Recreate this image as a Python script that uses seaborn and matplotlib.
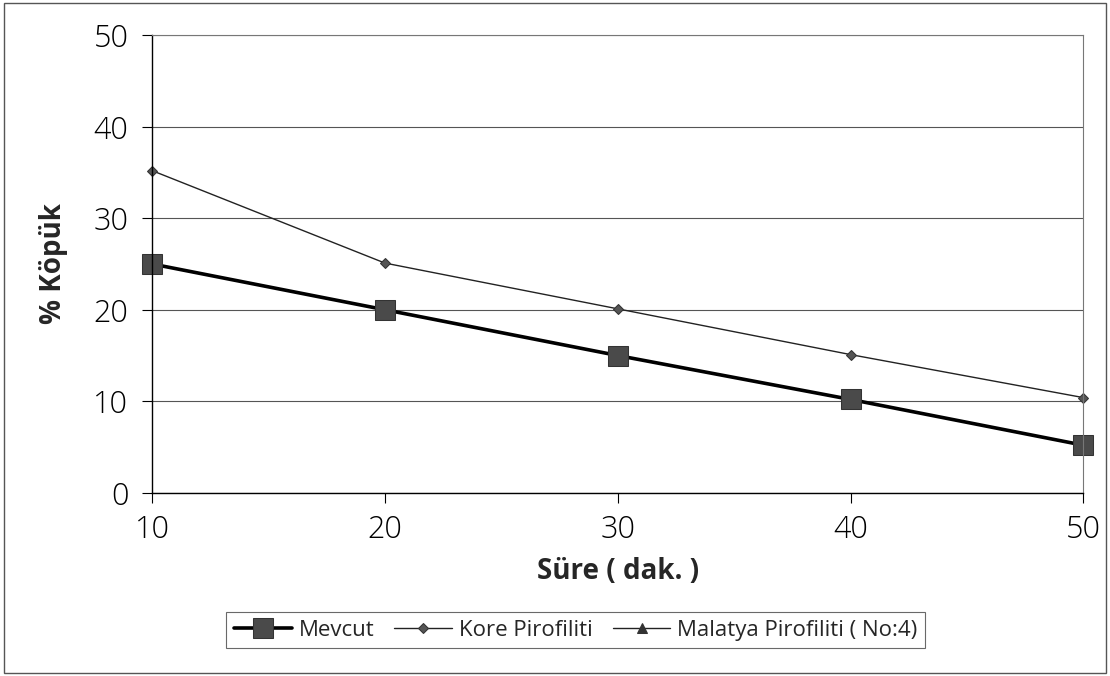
import numpy as np
import pandas as pd
import seaborn as sns
import matplotlib.pyplot as plt
from matplotlib.patches import Rectangle

# Veriler
sure = [10, 20, 30, 40, 50]
mevcut = [25, 20, 15, 10.2, 5.2]
kore = [35.2, 25.1, 20.1, 15.1, 10.4]
malatya = [np.nan, np.nan, np.nan, np.nan, np.nan]  # grafikte gorunmuyor

sns.set_theme(style="white")
plt.rcParams['font.family'] = ['Open Sans', 'DejaVu Sans']

fig = plt.figure(figsize=(11.1, 6.76), dpi=100)
ax = fig.add_axes([0.137, 0.271, 0.839, 0.677])

sns.lineplot(x=sure, y=mevcut, ax=ax, color='black', linewidth=2.6,
             marker='s', markersize=14, markerfacecolor='#4a4a4a',
             markeredgecolor='#333333', label='Mevcut', clip_on=False)
sns.lineplot(x=sure, y=kore, ax=ax, color='#222222', linewidth=1.0,
             marker='D', markersize=5, markerfacecolor='#555555',
             markeredgecolor='#333333', label='Kore Pirofiliti', clip_on=False)
sns.lineplot(x=sure, y=malatya, ax=ax, color='#222222', linewidth=1.0,
             marker='^', markersize=7, markerfacecolor='#333333',
             markeredgecolor='#333333', label='Malatya Pirofiliti ( No:4)')

ax.set_xlim(10, 50)
ax.set_ylim(0, 50)
ax.set_xticks(sure)
ax.set_yticks([0, 10, 20, 30, 40, 50])
ax.yaxis.grid(True, color='#555555', linewidth=0.8)
ax.set_axisbelow(True)
ax.tick_params(axis='both', labelsize=22, length=7, width=0.8,
               direction='out', colors='black', left=True, bottom=True)
ax.tick_params(axis='x', pad=8)
ax.tick_params(axis='y', pad=10)
for lbl in ax.get_xticklabels() + ax.get_yticklabels():
    lbl.set_fontweight('light')

for s in ['left', 'bottom']:
    ax.spines[s].set_color('black')
    ax.spines[s].set_linewidth(1.0)
for s in ['top', 'right']:
    ax.spines[s].set_color('#777777')
    ax.spines[s].set_linewidth(0.8)

ax.set_xlabel('Süre ( dak. )', fontsize=20, fontweight='bold', labelpad=8)
ax.set_ylabel('% Köpük', fontsize=20, fontweight='bold', labelpad=18)

leg = ax.legend(loc='center', bbox_to_anchor=(0.455, -0.30), ncol=3,
                frameon=True, fancybox=False, fontsize=16,
                handlelength=2.6, handletextpad=0.3, columnspacing=0.9,
                borderpad=0.35)
leg.get_frame().set_edgecolor('#444444')
leg.get_frame().set_linewidth(0.8)

# dis cerceve
fig.patches.append(Rectangle((0.004, 0.004), 0.992, 0.992, transform=fig.transFigure,
                             fill=False, edgecolor='#555555', linewidth=1.0))

fig.savefig('out.png', dpi=100)
